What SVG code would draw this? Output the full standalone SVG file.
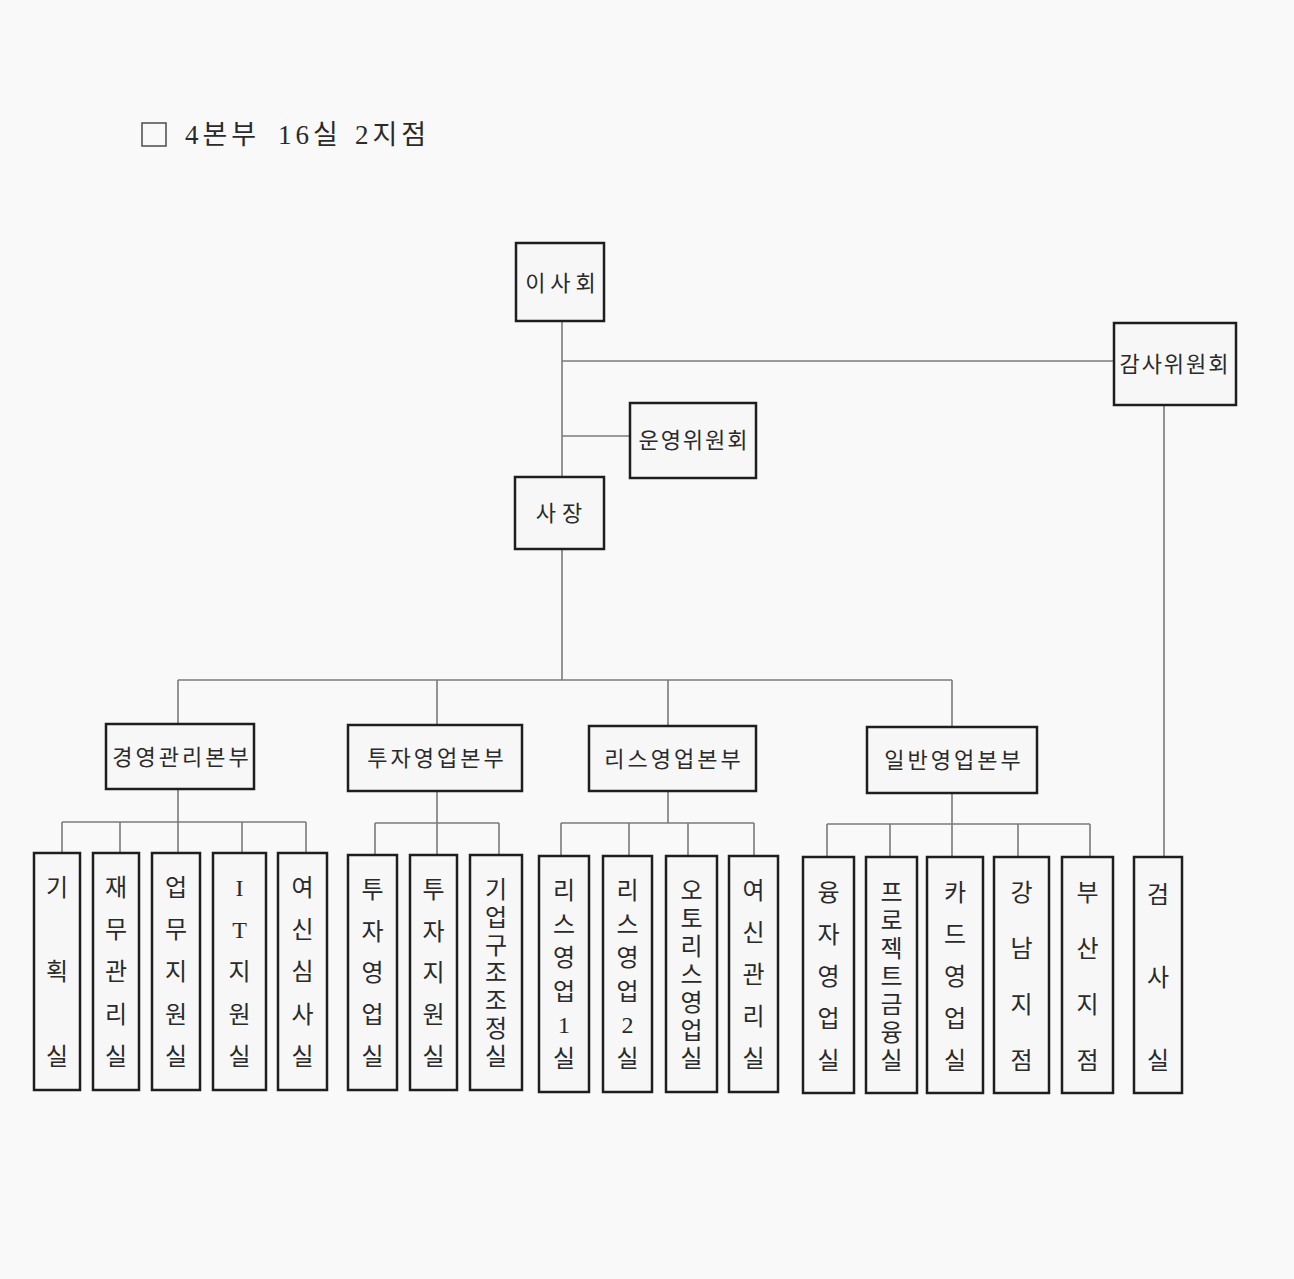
<svg xmlns="http://www.w3.org/2000/svg" width="1294" height="1279" viewBox="0 0 1294 1279">
<style>
  .bg { fill: #f9f9f9; }
  .box { fill: #f7f7f7; stroke: #1e1e1e; stroke-width: 2.5; }
  .conn line { stroke: #7a7a7a; stroke-width: 1.6; }
  text { font-family: "Liberation Serif", "Noto Sans CJK KR", serif; fill: #2a2a2a; }
  .t { font-size: 24px; text-anchor: middle; dominant-baseline: central; }
  .d { font-size: 22px; text-anchor: middle; dominant-baseline: central; letter-spacing: 3px; }
  .c { font-size: 22px; text-anchor: middle; dominant-baseline: central; letter-spacing: 2px; }
  .title { font-size: 27px; dominant-baseline: central; letter-spacing: 4px; }
</style>
<rect class="bg" x="0" y="0" width="1294" height="1279"/>

<g id="title">
  <rect x="142" y="123" width="24" height="23" fill="none" stroke="#555" stroke-width="1.6"/>
  <text class="title" y="135"><tspan x="185">4본부 </tspan><tspan x="278">16실 </tspan><tspan x="355">2지점</tspan></text>
</g>

<g id="connectors" class="conn">
  <line x1="562" y1="321" x2="562" y2="477"/>
  <line x1="562" y1="549" x2="562" y2="680"/>
  <line x1="562" y1="361" x2="1114" y2="361"/>
  <line x1="562" y1="436" x2="630" y2="436"/>
  <line x1="1164" y1="405" x2="1164" y2="857"/>
  <line x1="178" y1="680" x2="952" y2="680"/>
  <line x1="178" y1="680" x2="178" y2="724"/>
  <line x1="437" y1="680" x2="437" y2="725"/>
  <line x1="668" y1="680" x2="668" y2="726"/>
  <line x1="952" y1="680" x2="952" y2="727"/>
  <line x1="178" y1="789" x2="178" y2="853"/>
  <line x1="62" y1="822" x2="306" y2="822"/>
  <line x1="62" y1="822" x2="62" y2="853"/>
  <line x1="120" y1="822" x2="120" y2="853"/>
  <line x1="242" y1="822" x2="242" y2="853"/>
  <line x1="306" y1="822" x2="306" y2="853"/>
  <line x1="437" y1="791" x2="437" y2="855"/>
  <line x1="375" y1="823" x2="499" y2="823"/>
  <line x1="375" y1="823" x2="375" y2="855"/>
  <line x1="499" y1="823" x2="499" y2="855"/>
  <line x1="668" y1="791" x2="668" y2="823"/>
  <line x1="561" y1="823" x2="754" y2="823"/>
  <line x1="561" y1="823" x2="561" y2="856"/>
  <line x1="629" y1="823" x2="629" y2="856"/>
  <line x1="688" y1="823" x2="688" y2="856"/>
  <line x1="754" y1="823" x2="754" y2="856"/>
  <line x1="952" y1="793" x2="952" y2="857"/>
  <line x1="827" y1="824" x2="1090" y2="824"/>
  <line x1="827" y1="824" x2="827" y2="857"/>
  <line x1="890" y1="824" x2="890" y2="857"/>
  <line x1="1018" y1="824" x2="1018" y2="857"/>
  <line x1="1090" y1="824" x2="1090" y2="857"/>
</g>

<g id="node-isahoe">
  <rect class="box" x="516" y="243" width="88" height="78"/>
  <text class="c" x="563" y="283" style="letter-spacing:5px">이사회</text>
</g>
<g id="node-gamsa">
  <rect class="box" x="1114" y="323" width="122" height="82"/>
  <text class="c" x="1175" y="364">감사위원회</text>
</g>
<g id="node-unyeong">
  <rect class="box" x="630" y="403" width="126" height="75"/>
  <text class="c" x="694" y="440">운영위원회</text>
</g>
<g id="node-sajang">
  <rect class="box" x="515" y="477" width="89" height="72"/>
  <text class="c" x="562" y="513" style="letter-spacing:6px">사장</text>
</g>

<g id="node-div1">
  <rect class="box" x="106" y="724" width="148" height="65"/>
  <text class="d" x="182" y="757">경영관리본부</text>
</g>
<g id="node-div2">
  <rect class="box" x="348" y="725" width="174" height="66"/>
  <text class="d" x="437" y="758">투자영업본부</text>
</g>
<g id="node-div3">
  <rect class="box" x="589" y="726" width="167" height="65"/>
  <text class="d" x="674" y="759">리스영업본부</text>
</g>
<g id="node-div4">
  <rect class="box" x="867" y="727" width="170" height="66"/>
  <text class="d" x="954" y="760">일반영업본부</text>
</g>

<g id="node-gihoek">
  <rect class="box" x="34" y="853" width="46" height="237"/>
  <text class="t"><tspan x="57" y="888">기</tspan><tspan x="57" y="972">획</tspan><tspan x="57" y="1057">실</tspan></text>
</g>
<g id="node-jaemu">
  <rect class="box" x="93" y="853" width="46" height="237"/>
  <text class="t"><tspan x="116" y="888">재</tspan><tspan x="116" y="930">무</tspan><tspan x="116" y="972">관</tspan><tspan x="116" y="1015">리</tspan><tspan x="116" y="1057">실</tspan></text>
</g>
<g id="node-eopmu">
  <rect class="box" x="152" y="853" width="48" height="237"/>
  <text class="t"><tspan x="176" y="888">업</tspan><tspan x="176" y="930">무</tspan><tspan x="176" y="972">지</tspan><tspan x="176" y="1015">원</tspan><tspan x="176" y="1057">실</tspan></text>
</g>
<g id="node-it">
  <rect class="box" x="213" y="853" width="53" height="237"/>
  <text class="t"><tspan x="239.5" y="888">I</tspan><tspan x="239.5" y="930">T</tspan><tspan x="239.5" y="972">지</tspan><tspan x="239.5" y="1015">원</tspan><tspan x="239.5" y="1057">실</tspan></text>
</g>
<g id="node-yeosinsimsa">
  <rect class="box" x="278" y="853" width="49" height="237"/>
  <text class="t"><tspan x="302.5" y="888">여</tspan><tspan x="302.5" y="930">신</tspan><tspan x="302.5" y="972">심</tspan><tspan x="302.5" y="1015">사</tspan><tspan x="302.5" y="1057">실</tspan></text>
</g>

<g id="node-tujayeongeop">
  <rect class="box" x="348" y="855" width="49" height="235"/>
  <text class="t"><tspan x="372.5" y="890">투</tspan><tspan x="372.5" y="932">자</tspan><tspan x="372.5" y="973">영</tspan><tspan x="372.5" y="1015">업</tspan><tspan x="372.5" y="1057">실</tspan></text>
</g>
<g id="node-tujajiwon">
  <rect class="box" x="410" y="855" width="47" height="235"/>
  <text class="t"><tspan x="433.5" y="890">투</tspan><tspan x="433.5" y="932">자</tspan><tspan x="433.5" y="973">지</tspan><tspan x="433.5" y="1015">원</tspan><tspan x="433.5" y="1057">실</tspan></text>
</g>
<g id="node-gieopgujo">
  <rect class="box" x="470" y="855" width="52" height="235"/>
  <text class="t"><tspan x="496" y="890">기</tspan><tspan x="496" y="918">업</tspan><tspan x="496" y="946">구</tspan><tspan x="496" y="973">조</tspan><tspan x="496" y="1001">조</tspan><tspan x="496" y="1029">정</tspan><tspan x="496" y="1057">실</tspan></text>
</g>

<g id="node-lease1">
  <rect class="box" x="539" y="856" width="50" height="236"/>
  <text class="t"><tspan x="564" y="891">리</tspan><tspan x="564" y="925">스</tspan><tspan x="564" y="958">영</tspan><tspan x="564" y="992">업</tspan><tspan x="564" y="1025">1</tspan><tspan x="564" y="1059">실</tspan></text>
</g>
<g id="node-lease2">
  <rect class="box" x="603" y="856" width="49" height="236"/>
  <text class="t"><tspan x="627.5" y="891">리</tspan><tspan x="627.5" y="925">스</tspan><tspan x="627.5" y="958">영</tspan><tspan x="627.5" y="992">업</tspan><tspan x="627.5" y="1025">2</tspan><tspan x="627.5" y="1059">실</tspan></text>
</g>
<g id="node-autolease">
  <rect class="box" x="666" y="856" width="51" height="236"/>
  <text class="t"><tspan x="691.5" y="891">오</tspan><tspan x="691.5" y="919">토</tspan><tspan x="691.5" y="947">리</tspan><tspan x="691.5" y="975">스</tspan><tspan x="691.5" y="1003">영</tspan><tspan x="691.5" y="1031">업</tspan><tspan x="691.5" y="1059">실</tspan></text>
</g>
<g id="node-yeosingwanri">
  <rect class="box" x="729" y="856" width="49" height="236"/>
  <text class="t"><tspan x="753.5" y="891">여</tspan><tspan x="753.5" y="933">신</tspan><tspan x="753.5" y="975">관</tspan><tspan x="753.5" y="1017">리</tspan><tspan x="753.5" y="1059">실</tspan></text>
</g>

<g id="node-yungja">
  <rect class="box" x="803" y="857" width="51" height="236"/>
  <text class="t"><tspan x="828.5" y="893">융</tspan><tspan x="828.5" y="935">자</tspan><tspan x="828.5" y="977">영</tspan><tspan x="828.5" y="1019">업</tspan><tspan x="828.5" y="1061">실</tspan></text>
</g>
<g id="node-project">
  <rect class="box" x="866" y="857" width="51" height="236"/>
  <text class="t"><tspan x="891.5" y="893">프</tspan><tspan x="891.5" y="921">로</tspan><tspan x="891.5" y="949">젝</tspan><tspan x="891.5" y="977">트</tspan><tspan x="891.5" y="1005">금</tspan><tspan x="891.5" y="1033">융</tspan><tspan x="891.5" y="1061">실</tspan></text>
</g>
<g id="node-card">
  <rect class="box" x="927" y="857" width="56" height="236"/>
  <text class="t"><tspan x="955" y="893">카</tspan><tspan x="955" y="935">드</tspan><tspan x="955" y="977">영</tspan><tspan x="955" y="1019">업</tspan><tspan x="955" y="1061">실</tspan></text>
</g>
<g id="node-gangnam">
  <rect class="box" x="994" y="857" width="55" height="236"/>
  <text class="t"><tspan x="1021.5" y="893">강</tspan><tspan x="1021.5" y="949">남</tspan><tspan x="1021.5" y="1005">지</tspan><tspan x="1021.5" y="1061">점</tspan></text>
</g>
<g id="node-busan">
  <rect class="box" x="1062" y="857" width="51" height="236"/>
  <text class="t"><tspan x="1087.5" y="893">부</tspan><tspan x="1087.5" y="949">산</tspan><tspan x="1087.5" y="1005">지</tspan><tspan x="1087.5" y="1061">점</tspan></text>
</g>
<g id="node-geomsa">
  <rect class="box" x="1134" y="857" width="48" height="236"/>
  <text class="t"><tspan x="1158" y="895">검</tspan><tspan x="1158" y="978">사</tspan><tspan x="1158" y="1061">실</tspan></text>
</g>
</svg>
